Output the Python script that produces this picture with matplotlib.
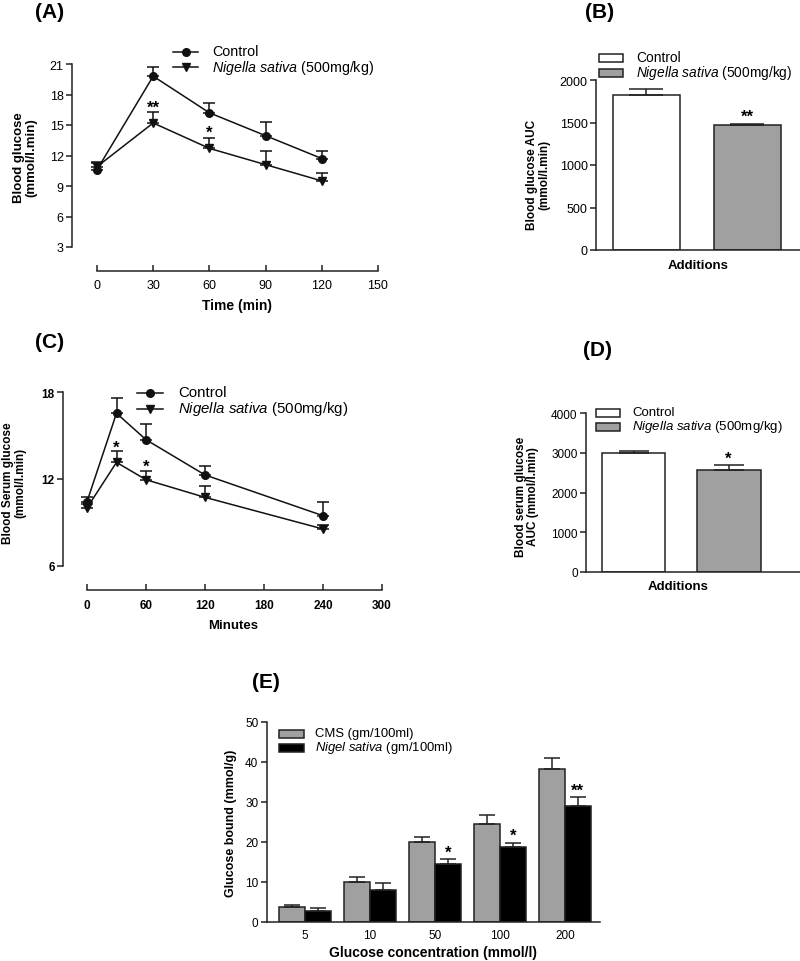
import matplotlib
matplotlib.use("Agg")
import matplotlib.pyplot as plt
import numpy as np

plt.rcParams['font.family'] = ['Liberation Sans', 'DejaVu Sans']
plt.rcParams['mathtext.fontset'] = 'custom'
plt.rcParams['mathtext.rm'] = 'Liberation Sans'
plt.rcParams['mathtext.it'] = 'Liberation Sans:italic'
plt.rcParams['mathtext.bf'] = 'Liberation Sans:bold'

# ---------------- data ----------------
# Panel A: OGTT
a_time = [0, 30, 60, 90, 120]
a_ctrl = [10.6, 19.8, 16.2, 13.95, 11.7]
a_ctrl_err = [0.8, 0.95, 0.95, 1.3, 0.75]
a_ns = [10.9, 15.2, 12.7, 11.1, 9.5]
a_ns_err = [0.35, 1.1, 1.0, 1.3, 0.8]
a_xticks = [0, 30, 60, 90, 120, 150]
a_yticks = [3, 6, 9, 12, 15, 18, 21]

# Panel B: AUC
b_groups = ['Control', 'Nigella sativa']
b_vals = [1824, 1467]
b_err = [70, 15]
b_yticks = [0, 500, 1000, 1500, 2000]

# Panel C: serum glucose
c_time = [0, 30, 60, 120, 240]
c_ctrl = [10.43, 16.55, 14.72, 12.28, 9.46]
c_ctrl_err = [0.35, 1.05, 1.1, 0.65, 0.97]
c_ns = [10.0, 13.15, 11.95, 10.73, 8.54]
c_ns_err = [0.3, 0.8, 0.6, 0.8, 0.3]
c_xticks = [0, 60, 120, 180, 240, 300]
c_yticks = [6, 12, 18]

# Panel D: AUC
d_vals = [2992, 2565]
d_err = [65, 130]
d_yticks = [0, 1000, 2000, 3000, 4000]

# Panel E: glucose binding
e_conc = ['5', '10', '50', '100', '200']
e_cms = [3.6, 10.0, 20.0, 24.5, 38.3]
e_cms_err = [0.6, 1.1, 1.1, 2.2, 2.6]
e_ns = [2.75, 8.0, 14.5, 18.8, 29.0]
e_ns_err = [0.6, 1.8, 1.1, 1.0, 2.25]
e_yticks = [0, 10, 20, 30, 40, 50]

W, H = 800, 962
fig = plt.figure(figsize=(W / 100, H / 100), dpi=100)

def axes_px(l, r, t, b):
    return fig.add_axes([l / W, 1 - b / H, (r - l) / W, (b - t) / H])

def px2pt(p):
    return p * 0.72

SPC = '#222222'
LW = 1.1

def style(ax, offx=0, offy=0, xticks_in=False, xpad=3):
    for s in ['top', 'right']:
        ax.spines[s].set_visible(False)
    for s in ['left', 'bottom']:
        ax.spines[s].set_color(SPC)
        ax.spines[s].set_linewidth(LW)
    if offy:
        ax.spines['left'].set_position(('outward', px2pt(offy)))
    if offx:
        ax.spines['bottom'].set_position(('outward', px2pt(offx)))
    ax.tick_params(axis='y', direction='out', length=4, width=LW, color=SPC, pad=2)
    ax.tick_params(axis='x', direction='in' if xticks_in else 'out', length=4, width=LW, color=SPC, pad=xpad)
    ax.patch.set_alpha(0)

def ftext(x, y, s, **kw):
    return fig.text(x / W, 1 - y / H, s, **kw)

# ---------------- Panel A ----------------
axA = axes_px(97, 378, 65, 248)
style(axA, offx=24, offy=25, xticks_in=True, xpad=6)
axA.set_xlim(0, 150)
axA.set_ylim(3, 21)
axA.set_xticks(a_xticks)
axA.set_yticks(a_yticks)
axA.tick_params(labelsize=9)
zero = [0] * len(a_time)
axA.errorbar(a_time, a_ctrl, yerr=[zero, a_ctrl_err], color='#111111', lw=1.1,
             marker='o', ms=5.5, capsize=4, elinewidth=1.1, capthick=1.1, clip_on=False, zorder=3)
axA.errorbar(a_time, a_ns, yerr=[zero, a_ns_err], color='#111111', lw=1.1,
             marker='v', ms=5.5, capsize=4, elinewidth=1.1, capthick=1.1, clip_on=False, zorder=3)
axA.text(30, 16.7, '**', ha='center', va='center', fontsize=12, fontweight='bold')
axA.text(60, 14.3, '*', ha='center', va='center', fontsize=12, fontweight='bold')
# legend
for yy, mk in [(52.5, 'o'), (68, 'v')]:
    l = plt.Line2D([173 / W, 198 / W], [1 - yy / H] * 2, transform=fig.transFigure,
                   color='#111111', lw=1.1)
    fig.add_artist(l)
    fig.add_artist(plt.Line2D([185.5 / W], [1 - yy / H], transform=fig.transFigure,
                              marker=mk, ms=5.5, color='#111111'))
ftext(212, 52.5, 'Control', fontsize=10.3, va='center')
ftext(212, 68, r'$\it{Nigella\ sativa}$ (500mg/kg)', fontsize=10.3, va='center')
ftext(237, 306, 'Time (min)', fontsize=10, fontweight='bold', ha='center', va='center')
ftext(25, 158, 'Blood glucose\n(mmol/l.min)', fontsize=9.5, fontweight='bold', ha='center',
      va='center', rotation=90, linespacing=1.1)

# ---------------- Panel B ----------------
axB = axes_px(596, 800, 81, 251)
style(axB)
axB.set_xlim(-0.5, 1.52)
axB.set_ylim(0, 2000)
axB.set_yticks(b_yticks)
axB.set_xticks([])
axB.tick_params(labelsize=9)
axB.bar([0, 1], b_vals, width=0.66, color=['white', '#a0a0a0'], edgecolor=SPC, lw=1.1,
        yerr=[[0, 0], b_err], capsize=12, error_kw=dict(elinewidth=1.1, capthick=1.1, ecolor=SPC))
axB.text(1, 1570, '**', ha='center', va='center', fontsize=12, fontweight='bold')
for yy, col in [(58.5, 'white'), (73.5, '#a0a0a0')]:
    fig.add_artist(plt.Rectangle((599 / W, 1 - (yy + 4) / H), 24 / W, 8 / H,
                                 transform=fig.transFigure, facecolor=col, edgecolor=SPC, lw=1.1))
ftext(636, 58.5, 'Control', fontsize=9.9, va='center')
ftext(636, 73.5, r'$\it{Nigella\ sativa}$ (500mg/kg)', fontsize=9.9, va='center')
ftext(698, 266, 'Additions', fontsize=9.5, fontweight='bold', ha='center', va='center')
ftext(538, 175, 'Blood glucose AUC\n(mmol/l.min)', fontsize=8.5, fontweight='bold', ha='center',
      va='center', rotation=90, linespacing=1.1)

# ---------------- Panel C ----------------
axC = axes_px(87, 382, 393.3, 566.7)
style(axC, offx=24, offy=24, xticks_in=True, xpad=7)
axC.set_xlim(0, 300)
axC.set_ylim(6, 18)
axC.set_xticks(c_xticks)
axC.set_yticks(c_yticks)
axC.tick_params(labelsize=8.5)
for lab in axC.get_xticklabels() + axC.get_yticklabels():
    lab.set_fontweight('bold')
zero = [0] * len(c_time)
axC.errorbar(c_time, c_ctrl, yerr=[zero, c_ctrl_err], color='#111111', lw=1.1,
             marker='o', ms=5.5, capsize=4, elinewidth=1.1, capthick=1.1, clip_on=False, zorder=3)
axC.errorbar(c_time, c_ns, yerr=[zero, c_ns_err], color='#111111', lw=1.1,
             marker='v', ms=5.5, capsize=4, elinewidth=1.1, capthick=1.1, clip_on=False, zorder=3)
axC.text(30, 14.2, '*', ha='center', va='center', fontsize=12, fontweight='bold')
axC.text(60, 12.9, '*', ha='center', va='center', fontsize=12, fontweight='bold')
for yy, mk in [(393.5, 'o'), (409.5, 'v')]:
    fig.add_artist(plt.Line2D([137 / W, 163 / W], [1 - yy / H] * 2, transform=fig.transFigure,
                              color='#111111', lw=1.1))
    fig.add_artist(plt.Line2D([150 / W], [1 - yy / H], transform=fig.transFigure,
                              marker=mk, ms=5.5, color='#111111'))
ftext(178, 393.5, 'Control', fontsize=10.8, va='center')
ftext(178, 409.5, r'$\it{Nigella\ sativa}$ (500mg/kg)', fontsize=10.8, va='center')
ftext(233, 626, 'Minutes', fontsize=9.5, fontweight='bold', ha='center', va='center')
ftext(14, 483, 'Blood Serum glucose\n(mmol/l.min)', fontsize=8.5, fontweight='bold', ha='center',
      va='center', rotation=90, linespacing=1.1)

# ---------------- Panel D ----------------
axD = axes_px(586, 800, 414.3, 572.7)
style(axD)
axD.set_xlim(-0.5, 1.75)
axD.set_ylim(0, 4000)
axD.set_yticks(d_yticks)
axD.set_xticks([])
axD.tick_params(labelsize=8.5)
axD.bar([0, 1], d_vals, width=0.67, color=['white', '#a0a0a0'], edgecolor=SPC, lw=1.1,
        yerr=[[0, 0], d_err], capsize=11, error_kw=dict(elinewidth=1.1, capthick=1.1, ecolor=SPC))
axD.text(1, 2870, '*', ha='center', va='center', fontsize=12, fontweight='bold')
for yy, col in [(413.5, 'white'), (427.5, '#a0a0a0')]:
    fig.add_artist(plt.Rectangle((596 / W, 1 - (yy + 4) / H), 24 / W, 8 / H,
                                 transform=fig.transFigure, facecolor=col, edgecolor=SPC, lw=1.1))
ftext(632, 413.5, 'Control', fontsize=9.5, va='center')
ftext(632, 427.5, r'$\it{Nigella\ sativa}$ (500mg/kg)', fontsize=9.5, va='center')
ftext(678, 587, 'Additions', fontsize=9.5, fontweight='bold', ha='center', va='center')
ftext(527, 497, 'Blood serum glucose\nAUC (mmol/l.min)', fontsize=8.5, fontweight='bold', ha='center',
      va='center', rotation=90, linespacing=1.1)

# ---------------- Panel E ----------------
axE = axes_px(266.7, 600, 722.7, 922.7)
style(axE)
axE.set_xlim(-0.59, 4.54)
axE.set_ylim(0, 50)
axE.set_yticks(e_yticks)
x = np.arange(len(e_conc))
axE.set_xticks(x)
axE.set_xticklabels(e_conc)
axE.tick_params(axis='y', labelsize=8.5)
axE.tick_params(axis='x', length=0, pad=5, labelsize=8.5)
bw = 0.4
axE.bar(x - bw / 2, e_cms, width=bw, color='#a0a0a0', edgecolor=SPC, lw=1.1,
        yerr=[[0] * 5, e_cms_err], capsize=6, error_kw=dict(elinewidth=1.1, capthick=1.1, ecolor=SPC))
axE.bar(x + bw / 2, e_ns, width=bw, color='black', edgecolor=SPC, lw=1.1,
        yerr=[[0] * 5, e_ns_err], capsize=6, error_kw=dict(elinewidth=1.1, capthick=1.1, ecolor=SPC))
axE.text(2 + bw / 2, 17.3, '*', ha='center', va='center', fontsize=12, fontweight='bold')
axE.text(3 + bw / 2, 21.6, '*', ha='center', va='center', fontsize=12, fontweight='bold')
axE.text(4 + bw / 2, 32.9, '**', ha='center', va='center', fontsize=12, fontweight='bold')
for yy, col in [(734.5, '#a0a0a0'), (748.5, 'black')]:
    fig.add_artist(plt.Rectangle((279 / W, 1 - (yy + 4) / H), 25 / W, 8 / H,
                                 transform=fig.transFigure, facecolor=col, edgecolor=SPC, lw=1.1))
ftext(315, 734.5, 'CMS (gm/100ml)', fontsize=9.4, va='center')
ftext(315, 748.5, r'$\it{Nigel\ sativa}$ (gm/100ml)', fontsize=9.4, va='center')
ftext(433, 953, 'Glucose concentration (mmol/l)', fontsize=10, fontweight='bold', ha='center', va='center')
ftext(231, 823, 'Glucose bound (mmol/g)', fontsize=9, fontweight='bold', ha='center',
      va='center', rotation=90)

# panel labels
for lab, xx, yy in [('(A)', 35, 13), ('(B)', 585, 13), ('(C)', 35, 343), ('(D)', 583, 350), ('(E)', 252, 683)]:
    ftext(xx, yy, lab, fontsize=15, fontweight='bold', va='center')

fig.savefig('out.png', dpi=100, facecolor='white')
